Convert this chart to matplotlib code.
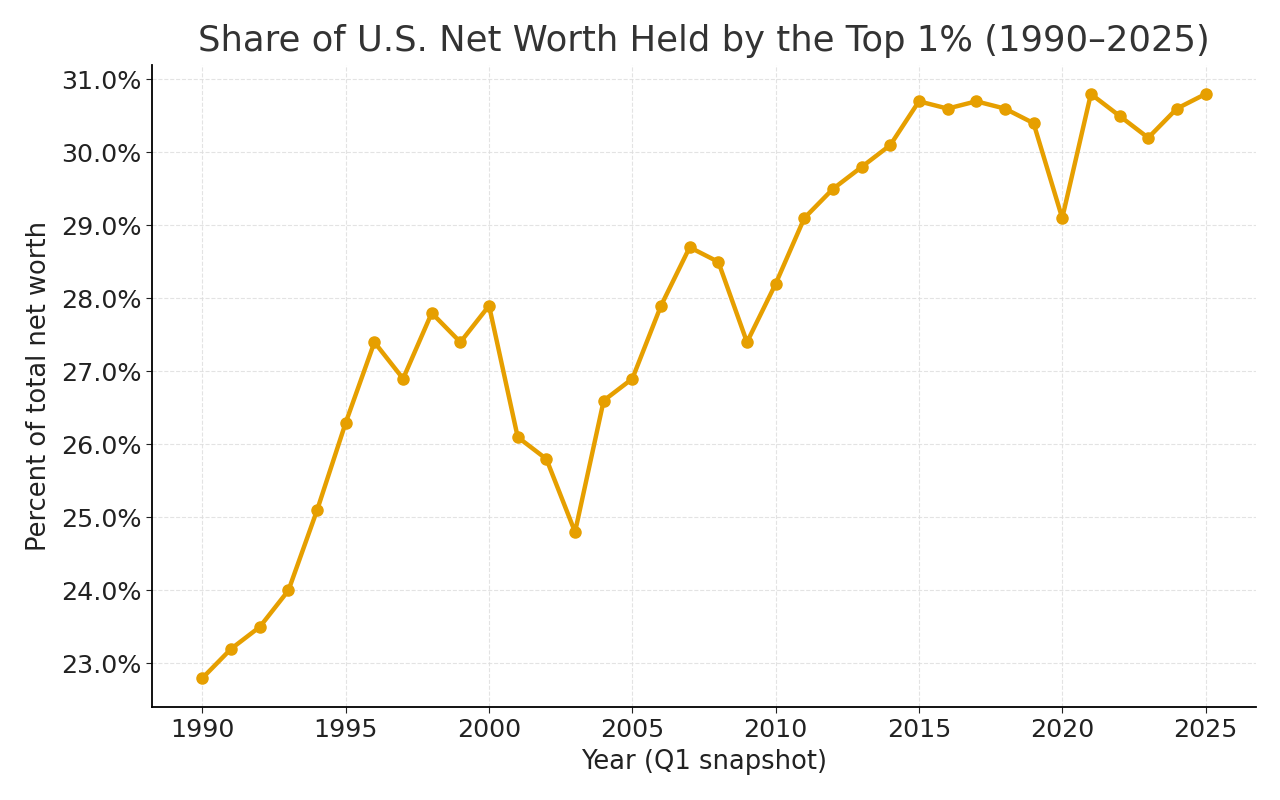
import matplotlib
matplotlib.use("Agg")
import matplotlib.pyplot as plt
from matplotlib.ticker import FuncFormatter

# data
years = list(range(1990, 2026))
share = [22.8, 23.2, 23.5, 24.0, 25.1, 26.3, 27.4, 26.9, 27.8, 27.4,
         27.9, 26.1, 25.8, 24.8, 26.6, 26.9, 27.9, 28.7, 28.5, 27.4,
         28.2, 29.1, 29.5, 29.8, 30.1, 30.7, 30.6, 30.7, 30.6, 30.4,
         29.1, 30.8, 30.5, 30.2, 30.6, 30.8]

fig = plt.figure(figsize=(12.8, 8), dpi=100)
ax = fig.add_axes([0.119, 0.116, 0.862, 0.803])

ax.plot(years, share, color="#E69F00", linewidth=3.2, marker="o", markersize=8)

ax.set_title("Share of U.S. Net Worth Held by the Top 1% (1990\u20132025)",
             fontsize=25.5, color="#333333", pad=10)
ax.set_xlabel("Year (Q1 snapshot)", fontsize=18.5, color="#222222", labelpad=5)
ax.set_ylabel("Percent of total net worth", fontsize=18.5, color="#222222", labelpad=6)

ax.yaxis.set_major_formatter(FuncFormatter(lambda v, p: f"{v:.1f}%"))
ax.set_xticks(range(1990, 2026, 5))
ax.tick_params(labelsize=18.3, colors="#222222", length=4.5)

ax.grid(True, linestyle="--", linewidth=0.8, color="#dddddd", alpha=0.8)
ax.spines["top"].set_visible(False)
ax.spines["right"].set_visible(False)
ax.spines["left"].set_linewidth(1.3)
ax.spines["bottom"].set_linewidth(1.3)

fig.savefig("out.png", dpi=100)
